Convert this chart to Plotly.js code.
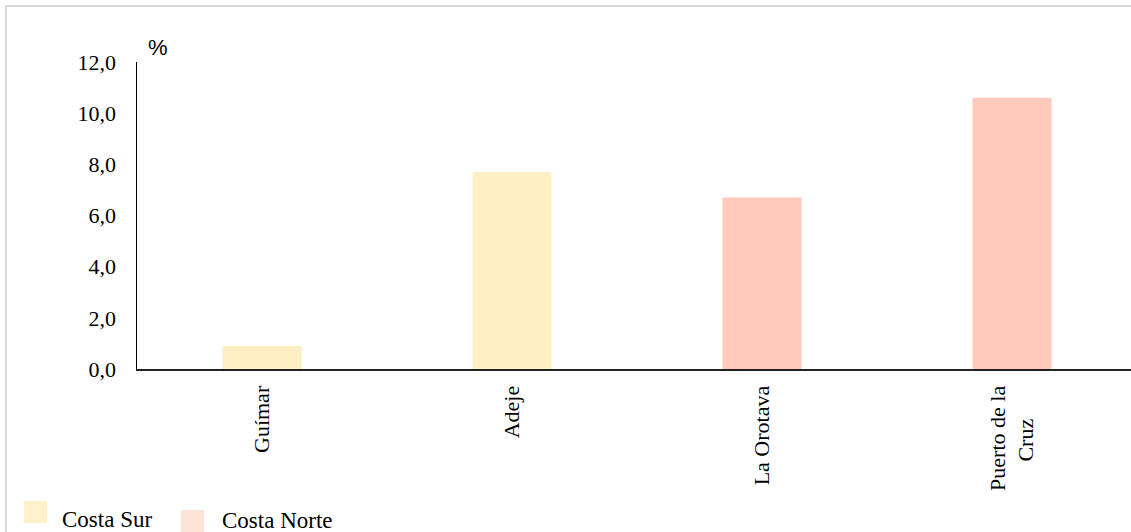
<!DOCTYPE html>
<html>
<head>
<meta charset="utf-8">
<script src="https://cdn.plot.ly/plotly-3.0.1.min.js"></script>
<style>
html,body{margin:0;padding:0;background:#fff;}
#frame{position:absolute;left:5px;top:5px;width:1140px;height:540px;border:2px solid #d9d9d9;box-sizing:border-box;}
#chart{position:absolute;left:0;top:0;width:1131px;height:532px;}
</style>
</head>
<body>
<div id="frame"></div>
<div id="chart"></div>
<script>
const categories = ["Guímar", "Adeje", "La Orotava", "Puerto de la Cruz"];
const tickLabels = ["Guímar", "Adeje", "La Orotava", "Puerto de la<br>Cruz&nbsp;&nbsp;&nbsp;&nbsp;&nbsp;&nbsp;"];
const surCategories = ["Guímar", "Adeje"];
const surValues = [0.9, 7.7];
const norteCategories = ["La Orotava", "Puerto de la Cruz"];
const norteValues = [6.7, 10.6];
const yTicks = [0, 2, 4, 6, 8, 10, 12];
const legendNames = ["Costa Sur", "Costa Norte"];

const serif = "Liberation Serif, Times New Roman, serif";

const traces = [
  {type: "bar", name: legendNames[0], x: surCategories, y: surValues, width: 0.316,
   marker: {color: "#FEF0C2"}, hoverinfo: "skip", showlegend: false},
  {type: "bar", name: legendNames[1], x: norteCategories, y: norteValues, width: 0.316,
   marker: {color: "#FECABB"}, hoverinfo: "skip", showlegend: false}
];

// legend drawn as paper-referenced shapes + text (larger swatches than Plotly's built-in)
const shapes = [
  {type: "rect", xref: "paper", yref: "paper", x0: -0.1137, x1: -0.0905, y0: -0.5016, y1: -0.43,
   fillcolor: "#FEF0C8", line: {width: 0}},
  {type: "rect", xref: "paper", yref: "paper", x0: 0.0443, x1: 0.0674, y0: -0.531, y1: -0.4593,
   fillcolor: "#FCE3D8", line: {width: 0}}
];

const layout = {
  width: 1131, height: 532,
  margin: {l: 137, r: 0, t: 62, b: 163, pad: 0},
  paper_bgcolor: "rgba(0,0,0,0)",
  plot_bgcolor: "rgba(0,0,0,0)",
  barmode: "overlay",
  separators: ", ",
  showlegend: false,
  xaxis: {
    type: "category", categoryarray: categories, categoryorder: "array",
    tickvals: categories, ticktext: tickLabels,
    range: [-0.5, 3.476],
    showline: true, linecolor: "#222", linewidth: 2,
    showgrid: false, zeroline: false, ticks: "",
    tickangle: -90, ticklabelstandoff: 6,
    tickfont: {family: serif, size: 22, color: "#000"}
  },
  yaxis: {
    range: [0, 12], tickvals: yTicks, tickformat: ".1f",
    showline: true, linecolor: "#000", linewidth: 1.5,
    showgrid: false, zeroline: false, ticks: "",
    ticklabelstandoff: 15,
    tickfont: {family: serif, size: 22, color: "#000"}
  },
  shapes: shapes,
  annotations: [
    {text: "%", xref: "paper", yref: "paper", x: 0.021, y: 1.0,
     xanchor: "center", yanchor: "bottom", showarrow: false,
     font: {family: "Liberation Sans, Arial, sans-serif", size: 22, color: "#000"}},
    {text: legendNames[0], xref: "paper", yref: "paper", x: -0.0775, y: -0.4886,
     xanchor: "left", yanchor: "middle", showarrow: false,
     font: {family: serif, size: 23, color: "#000"}},
    {text: legendNames[1], xref: "paper", yref: "paper", x: 0.0835, y: -0.495,
     xanchor: "left", yanchor: "middle", showarrow: false,
     font: {family: serif, size: 23, color: "#000"}}
  ]
};

Plotly.newPlot("chart", traces, layout, {displayModeBar: false, staticPlot: true});
</script>
</body>
</html>
